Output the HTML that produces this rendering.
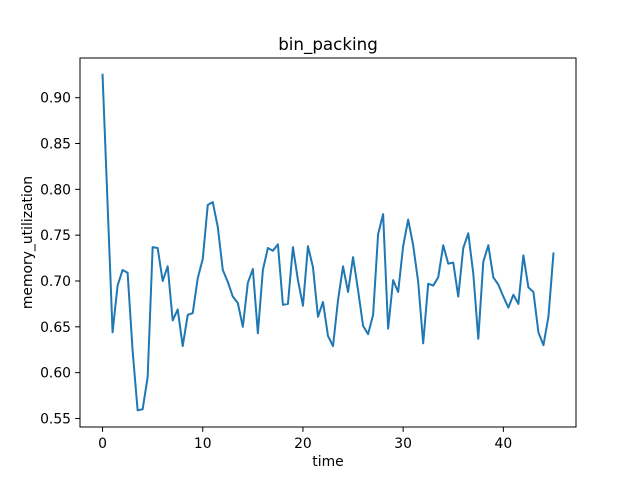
<!DOCTYPE html>
<html><head><meta charset="utf-8"><style>
body{margin:0;background:#fff}
svg text{font-family:"DejaVu Sans","Liberation Sans",sans-serif;fill:#000}
</style></head><body>
<svg id="chart" width="640" height="480" xmlns="http://www.w3.org/2000/svg">
<rect width="640" height="480" fill="#fff"/>
<g id="plot"></g>
</svg>
<script>
const times=[0,1,1.5,2,2.5,3,3.5,4,4.5,5,5.5,6,6.5,7,7.5,8,8.5,9,9.5,10,10.5,11,11.5,12,12.5,13,13.5,14,14.5,15,15.5,16,16.5,17,17.5,18,18.5,19,19.5,20,20.5,21,21.5,22,22.5,23,23.5,24,24.5,25,25.5,26,26.5,27,27.5,28,28.5,29,29.5,30,30.5,31,31.5,32,32.5,33,33.5,34,34.5,35,35.5,36,36.5,37,37.5,38,38.5,39,39.5,40,40.5,41,41.5,42,42.5,43,43.5,44,44.5,45];
const memory=[0.925,0.644,0.695,0.712,0.709,0.624,0.559,0.560,0.595,0.737,0.736,0.700,0.716,0.657,0.669,0.629,0.663,0.665,0.703,0.724,0.783,0.786,0.759,0.712,0.699,0.683,0.676,0.650,0.698,0.713,0.643,0.712,0.736,0.733,0.740,0.674,0.675,0.737,0.701,0.673,0.738,0.715,0.661,0.677,0.640,0.629,0.679,0.716,0.688,0.726,0.690,0.651,0.642,0.663,0.751,0.773,0.648,0.701,0.688,0.738,0.767,0.739,0.699,0.632,0.697,0.695,0.704,0.739,0.719,0.720,0.683,0.736,0.752,0.708,0.637,0.721,0.739,0.704,0.696,0.683,0.671,0.685,0.675,0.728,0.693,0.688,0.644,0.630,0.661,0.730];
const xTicks=[0,10,20,30,40];
const yTicks=[0.55,0.60,0.65,0.70,0.75,0.80,0.85,0.90];

const L=80,R=576,T=58,B=427;
const xmin=Math.min(...times),xmax=Math.max(...times);
const ymin=Math.min(...memory),ymax=Math.max(...memory);
const xm=(xmax-xmin)*0.05,ym=(ymax-ymin)*0.05;
const x0=xmin-xm,x1=xmax+xm,y0=ymin-ym,y1=ymax+ym;
function sx(v){return L+(v-x0)/(x1-x0)*(R-L);}
function sy(v){return B-(v-y0)/(y1-y0)*(B-T);}
const NS="http://www.w3.org/2000/svg";
const g=document.getElementById('plot');
function mk(tag,attrs,parent){const e=document.createElementNS(NS,tag);for(const k in attrs)e.setAttribute(k,attrs[k]);(parent||g).appendChild(e);return e;}

const line=mk('polyline',{points:times.map((t,i)=>sx(t).toFixed(2)+','+sy(memory[i]).toFixed(2)).join(' '),fill:'none',stroke:'#1f77b4','stroke-width':2,'stroke-linejoin':'round','stroke-linecap':'square'});



const frame=mk('rect',{x:L,y:T,width:R-L,height:B-T,fill:'none',stroke:'#000','stroke-width':1});



xTicks.forEach(v=>{
  const x=sx(v);
  const tk=mk('line',{x1:x,x2:x,y1:B,y2:B+4.9,stroke:'#000','stroke-width':1});
  
  
  const tx=mk('text',{x:x,y:B+21,'font-size':13.9,'text-anchor':'middle'});
  tx.textContent=String(v);
  
  
});
yTicks.forEach(v=>{
  const y=sy(v);
  const tk=mk('line',{x1:L-4.9,x2:L,y1:y,y2:y,stroke:'#000','stroke-width':1});
  
  
  const tx=mk('text',{x:L-9,y:y+5,'font-size':13.9,'text-anchor':'end'});
  tx.textContent=v.toFixed(2);
  
  
});
const title=mk('text',{x:(L+R)/2,y:T-8,'font-size':16.7,'text-anchor':'middle'});
title.textContent='bin_packing';


const xl=mk('text',{x:(L+R)/2,y:B+39,'font-size':13.9,'text-anchor':'middle'});
xl.textContent='time';


const yl=mk('text',{x:0,y:0,'font-size':13.9,'text-anchor':'middle',transform:'translate(32,'+((T+B)/2)+') rotate(-90)'});
yl.textContent='memory_utilization';


</script>
</body></html>
